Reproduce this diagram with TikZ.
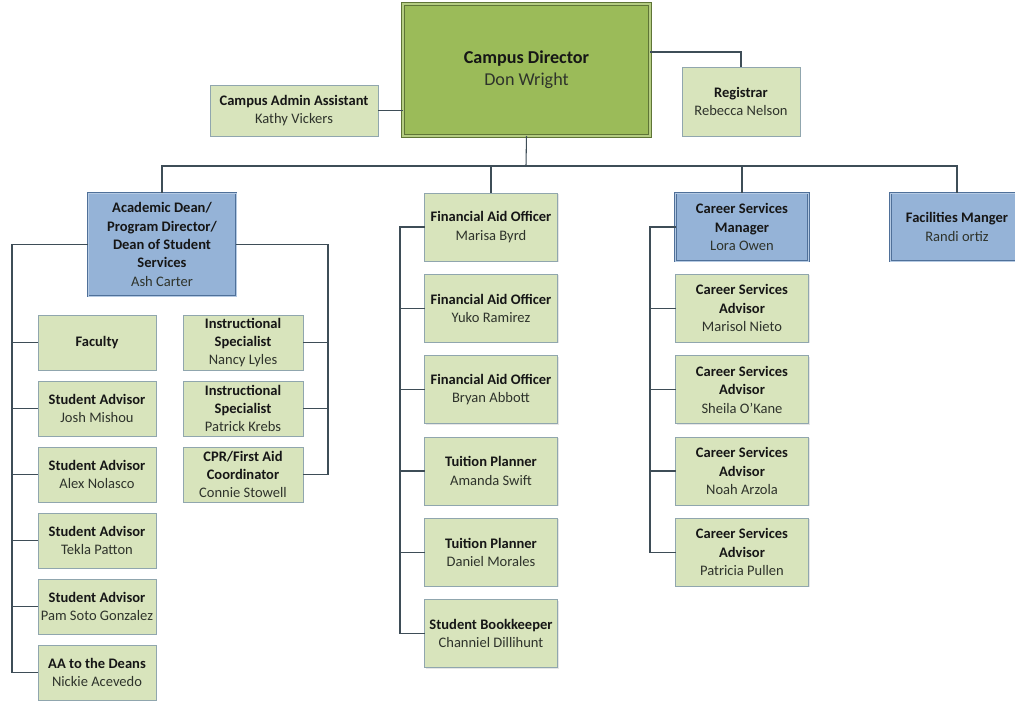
\documentclass[tikz,border=0pt]{standalone}
\usepackage{fontspec}
\setmainfont{Carlito}
\usepackage{xcolor}
\definecolor{Ink}{HTML}{161616}
\definecolor{Name}{HTML}{2E332B}
\definecolor{Leaf}{HTML}{D8E4BC}
\definecolor{LeafRule}{HTML}{90A6AE}
\definecolor{Olive}{HTML}{9BBB59}
\definecolor{OliveRule}{HTML}{5E7436}
\definecolor{Sky}{HTML}{95B3D7}
\definecolor{SkyRule}{HTML}{4F7099}
\definecolor{Line}{HTML}{3E4D57}
\usepackage{tikz}
\usetikzlibrary{positioning,shadows}
\tikzset{
  box/.style={draw=LeafRule,fill=Leaf,line width=.6pt,align=center,text=Ink,
    font=\fontsize{10.9}{13.8}\selectfont\bfseries,inner sep=1pt,outer sep=0pt,
    drop shadow={shadow xshift=.8pt,shadow yshift=-.8pt,opacity=.2}},
  leaf/.style={box,minimum width=88.5pt,minimum height=41.25pt},
  aide/.style={box,minimum width=90pt,minimum height=41.25pt},
  staff/.style={box,minimum width=99.75pt,minimum height=51pt},
  head/.style={staff,fill=Sky,draw=SkyRule,line width=.7pt,double=Sky!70!white,double distance=.7pt},
  chief/.style={box,fill=Olive,draw=OliveRule,line width=.8pt,double=Olive!75!white,double distance=.9pt,
    minimum width=185.25pt,minimum height=99pt,font=\fontsize{13.6}{16.5}\selectfont\bfseries},
  link/.style={draw=Line,line width=.8pt}
}

\begin{document}
\begin{tikzpicture}[x=0.75pt,y=-0.75pt,node distance=8.25pt]
\useasboundingbox (0,0) rectangle (1015,702);
\node[chief] (dir) at (526.5,70) {Campus Director\\{\mdseries\color{Name}Don Wright}};
\node[box,minimum width=126pt,minimum height=38.25pt] (adm) at (294,110.5) {Campus Admin Assistant\\{\mdseries\color{Name}Kathy Vickers}};
\node[box,minimum width=88.5pt,minimum height=51.75pt] (reg) at (741,101.5) {Registrar\\{\mdseries\color{Name}Rebecca Nelson}};
\coordinate (hub) at (526,166);
% second row
\node[head,minimum width=111pt,minimum height=77.25pt] (dean) at (162,244.5) {Academic Dean/\\Program Director/\\Dean of Student\\Services\\{\mdseries\color{Name}Ash Carter}};
\node[staff] (fao1) at (491,227) {Financial Aid Officer\\{\mdseries\color{Name}Marisa Byrd}};
\node[head] (csm) at (742,227) {Career Services\\Manager\\{\mdseries\color{Name}Lora Owen}};
\node[head] (facil) at (957,227) {Facilities Manger\\{\mdseries\color{Name}Randi ortiz}};
% academic column
\node[leaf] (fac) at (97,342.5) {Faculty};
\node[leaf,below=of fac] (sa1) {Student Advisor\\{\mdseries\color{Name}Josh Mishou}};
\node[leaf,below=of sa1] (sa2) {Student Advisor\\{\mdseries\color{Name}Alex Nolasco}};
\node[leaf,below=of sa2] (sa3) {Student Advisor\\{\mdseries\color{Name}Tekla Patton}};
\node[leaf,below=of sa3] (sa4) {Student Advisor\\{\mdseries\color{Name}Pam Soto Gonzalez}};
\node[leaf,below=of sa4] (aa) {AA to the Deans\\{\mdseries\color{Name}Nickie Acevedo}};
\node[aide] (is1) at (243,342.5) {Instructional\\Specialist\\{\mdseries\color{Name}Nancy Lyles}};
\node[aide,below=of is1] (is2) {Instructional\\Specialist\\{\mdseries\color{Name}Patrick Krebs}};
\node[aide,below=of is2] (cpr) {CPR/First Aid\\Coordinator\\{\mdseries\color{Name}Connie Stowell}};
% financial column
\node[staff,below=10pt of fao1] (fao2) {Financial Aid Officer\\{\mdseries\color{Name}Yuko Ramirez}};
\node[staff,below=10pt of fao2] (fao3) {Financial Aid Officer\\{\mdseries\color{Name}Bryan Abbott}};
\node[staff,below=10pt of fao3] (tp1) {Tuition Planner\\{\mdseries\color{Name}Amanda Swift}};
\node[staff,below=10pt of tp1] (tp2) {Tuition Planner\\{\mdseries\color{Name}Daniel Morales}};
\node[staff,below=10pt of tp2] (book) {Student Bookkeeper\\{\mdseries\color{Name}Channiel Dillihunt}};
% career column
\node[staff,below=10pt of csm] (csa1) {Career Services\\Advisor\\{\mdseries\color{Name}Marisol Nieto}};
\node[staff,below=10pt of csa1] (csa2) {Career Services\\Advisor\\{\mdseries\color{Name}Sheila O’Kane}};
\node[staff,below=10pt of csa2] (csa3) {Career Services\\Advisor\\{\mdseries\color{Name}Noah Arzola}};
\node[staff,below=10pt of csa3] (csa4) {Career Services\\Advisor\\{\mdseries\color{Name}Patricia Pullen}};
% connectors
\coordinate (lbus) at (12,243);
\coordinate (rbus) at (328,243);
\coordinate (fbus) at (400,0);
\coordinate (cbus) at (650,0);
\draw[link] (adm.east) -- (adm.east -| dir.west);
\draw[link] ([yshift=13.5pt]dir.east) -| (reg.north);
\draw[link] (dir.south) -- (hub);
\draw[link] (dean.north) |- (hub) -| (facil.north);
\draw[link] (fao1.north) -- (fao1.north |- hub);
\draw[link] (csm.north) -- (csm.north |- hub);
\draw[link] (dean.west) -- (dean.west -| lbus) |- (aa.west);
\foreach \n in {fac,sa1,sa2,sa3,sa4} \draw[link] (\n.west -| lbus) -- (\n.west);
\draw[link] (dean.east) -- (dean.east -| rbus) |- (cpr.east);
\foreach \n in {is1,is2} \draw[link] (\n.east -| rbus) -- (\n.east);
\draw[link] (fao1.west) -- (fao1.west -| fbus) |- (book.west);
\foreach \n in {fao2,fao3,tp1,tp2} \draw[link] (\n.west -| fbus) -- (\n.west);
\draw[link] (csm.west) -- (csm.west -| cbus) |- (csa4.west);
\foreach \n in {csa1,csa2,csa3} \draw[link] (\n.west -| cbus) -- (\n.west);
\end{tikzpicture}
\end{document}
